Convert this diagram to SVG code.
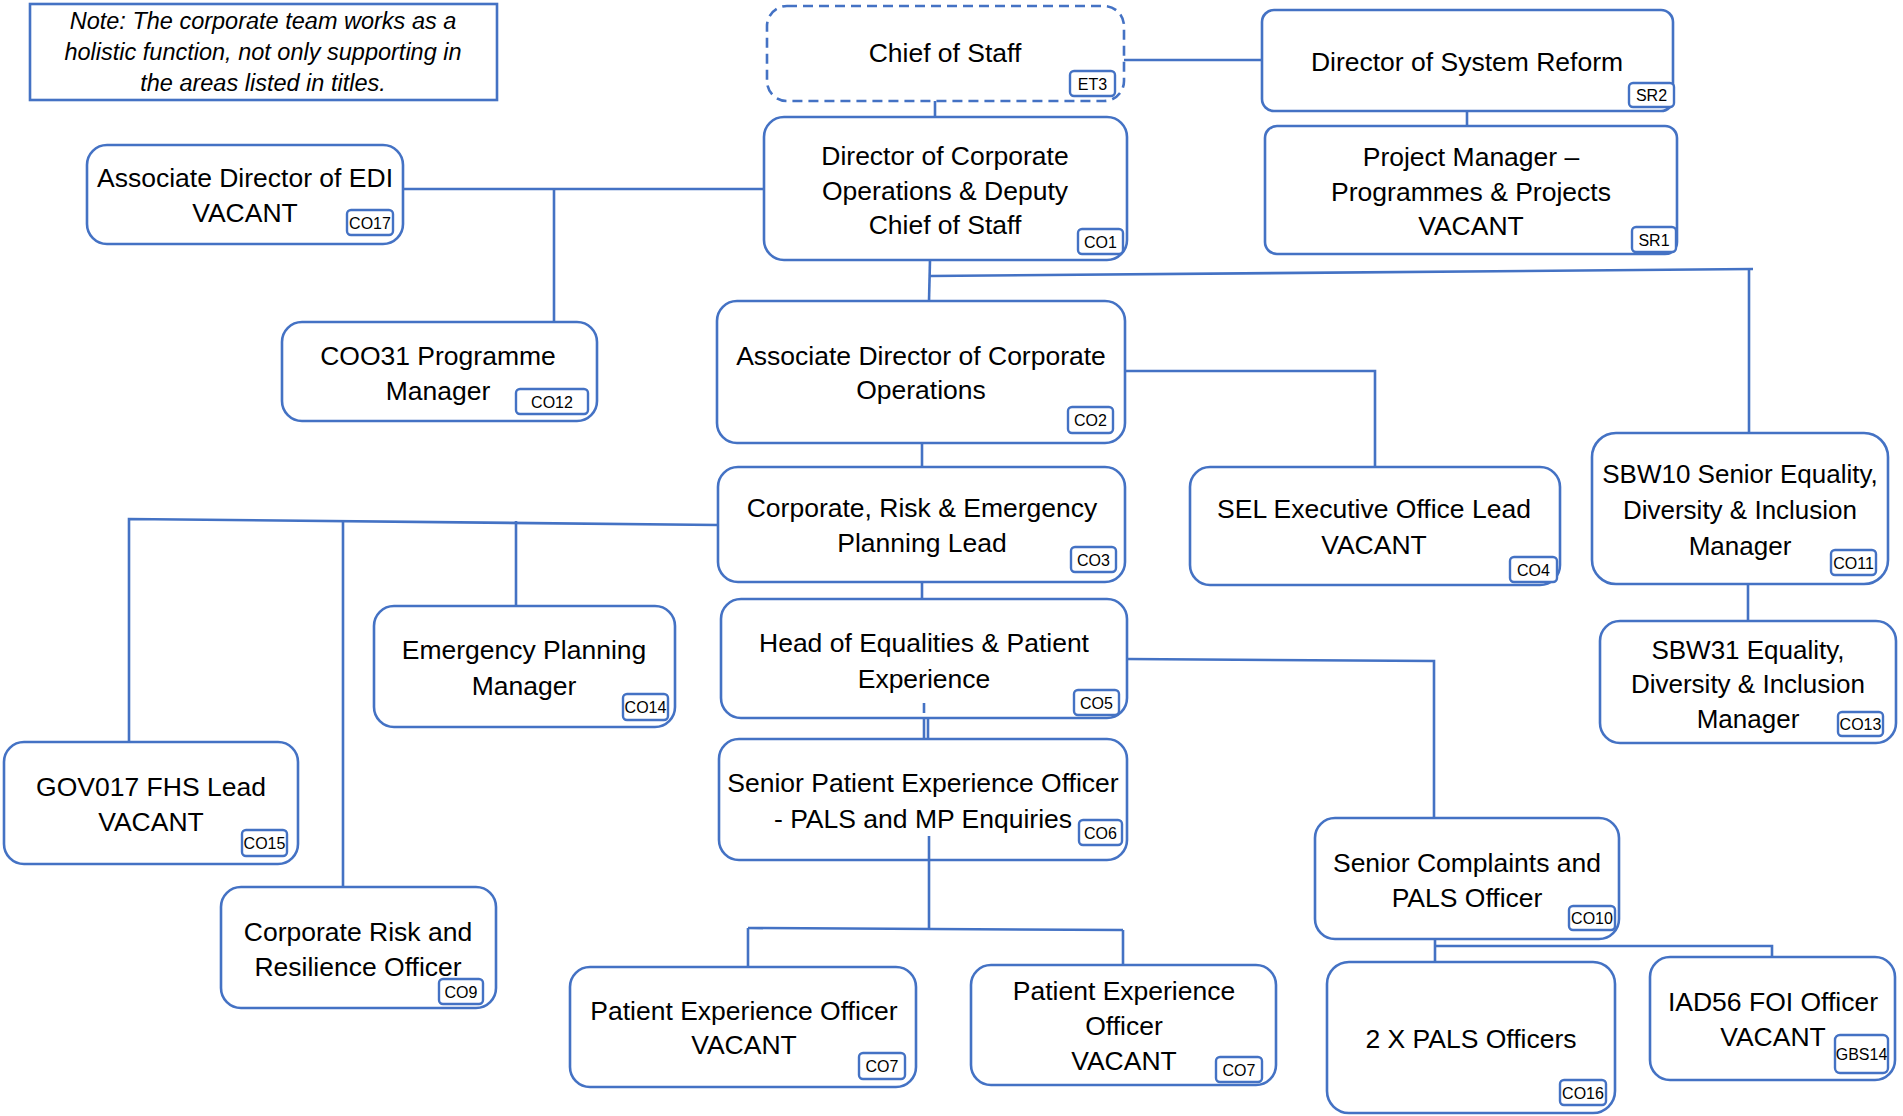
<svg xmlns="http://www.w3.org/2000/svg" width="1903" height="1116" viewBox="0 0 1903 1116">
<style>
.box{fill:#fff;stroke:#4472C4;stroke-width:2.6}
.dash{stroke-dasharray:10 6}
.badge{fill:#fff;stroke:#4472C4;stroke-width:2.4}
.t{font-family:"Liberation Sans",Arial,sans-serif;font-size:26.5px;fill:#000;text-anchor:middle}
.t26{font-size:26px}
.b{font-family:"Liberation Sans",Arial,sans-serif;font-size:16px;fill:#000;text-anchor:middle}
.note{font-family:"Liberation Sans",Arial,sans-serif;font-size:23.5px;font-style:italic;fill:#000;text-anchor:middle}
.c{fill:none;stroke:#4472C4;stroke-width:2.6}
</style>
<rect width="1903" height="1116" fill="#fff"/>

<g id="note">
<rect x="30" y="4" width="467" height="96" fill="#fff" stroke="#4472C4" stroke-width="2.6"/>
<text class="note" x="263" y="29">Note: The corporate team works as a</text>
<text class="note" x="263" y="60">holistic function, not only supporting in</text>
<text class="note" x="263" y="91">the areas listed in titles.</text>
</g>

<g id="ET3">
<rect class="box dash" x="767" y="6" width="357" height="95" rx="20"/>
<text class="t" x="945" y="62">Chief of Staff</text>
<rect class="badge" x="1070" y="71" width="45" height="25" rx="4"/>
<text class="b" x="1092.5" y="89.5">ET3</text>
</g>

<g id="SR2">
<rect class="box" x="1262" y="10" width="411" height="101" rx="12"/>
<text class="t" x="1467" y="71">Director of System Reform</text>
<rect class="badge" x="1629" y="83" width="45" height="24" rx="4"/>
<text class="b" x="1651.5" y="101">SR2</text>
</g>

<g id="SR1">
<rect class="box" x="1265" y="126" width="412" height="128" rx="12"/>
<text class="t" x="1471" y="166">Project Manager –</text>
<text class="t" x="1471" y="201">Programmes &amp; Projects</text>
<text class="t" x="1471" y="235">VACANT</text>
<rect class="badge" x="1632" y="227" width="44" height="25" rx="4"/>
<text class="b" x="1654" y="245.5">SR1</text>
</g>

<g id="CO1">
<rect class="box" x="764" y="117" width="363" height="143" rx="20"/>
<text class="t" x="945" y="165">Director of Corporate</text>
<text class="t" x="945" y="200">Operations &amp; Deputy</text>
<text class="t" x="945" y="234">Chief of Staff</text>
<rect class="badge" x="1078" y="229" width="45" height="25" rx="4"/>
<text class="b" x="1100.5" y="247.5">CO1</text>
</g>

<g id="CO17">
<rect class="box" x="87" y="145" width="316" height="99" rx="20"/>
<text class="t" x="245" y="187">Associate Director of EDI</text>
<text class="t" x="245" y="222">VACANT</text>
<rect class="badge" x="347" y="210" width="46" height="25" rx="4"/>
<text class="b" x="370" y="228.5">CO17</text>
</g>

<g id="CO12">
<rect class="box" x="282" y="322" width="315" height="99" rx="20"/>
<text class="t" x="438" y="365">COO31 Programme</text>
<text class="t" x="438" y="400">Manager</text>
<rect class="badge" x="516" y="389" width="72" height="25" rx="4"/>
<text class="b" x="552" y="407.5">CO12</text>
</g>

<g id="CO2">
<rect class="box" x="717" y="301" width="408" height="142" rx="20"/>
<text class="t" x="921" y="365">Associate Director of Corporate</text>
<text class="t" x="921" y="399">Operations</text>
<rect class="badge" x="1068" y="407" width="45" height="26" rx="4"/>
<text class="b" x="1090.5" y="426">CO2</text>
</g>

<g id="CO3">
<rect class="box" x="718" y="467" width="407" height="115" rx="20"/>
<text class="t" x="922" y="517">Corporate, Risk &amp; Emergency</text>
<text class="t" x="922" y="552">Planning Lead</text>
<rect class="badge" x="1071" y="547" width="45" height="25" rx="4"/>
<text class="b" x="1093.5" y="565.5">CO3</text>
</g>

<g id="CO4">
<rect class="box" x="1190" y="467" width="370" height="118" rx="20"/>
<text class="t" x="1374" y="518">SEL Executive Office Lead</text>
<text class="t" x="1374" y="554">VACANT</text>
<rect class="badge" x="1510" y="557" width="47" height="25" rx="4"/>
<text class="b" x="1533.5" y="575.5">CO4</text>
</g>

<g id="CO11">
<rect class="box" x="1592" y="433" width="296" height="151" rx="24"/>
<text class="t t26" x="1740" y="483">SBW10 Senior Equality,</text>
<text class="t t26" x="1740" y="519">Diversity &amp; Inclusion</text>
<text class="t t26" x="1740" y="555">Manager</text>
<rect class="badge" x="1831" y="550" width="45" height="25" rx="4"/>
<text class="b" x="1853.5" y="568.5">CO11</text>
</g>

<g id="CO13">
<rect class="box" x="1600" y="621" width="296" height="122" rx="20"/>
<text class="t t26" x="1748" y="659">SBW31 Equality,</text>
<text class="t t26" x="1748" y="693">Diversity &amp; Inclusion</text>
<text class="t t26" x="1748" y="728">Manager</text>
<rect class="badge" x="1838" y="712" width="45" height="24" rx="4"/>
<text class="b" x="1860.5" y="730">CO13</text>
</g>

<g id="CO14">
<rect class="box" x="374" y="606" width="301" height="121" rx="20"/>
<text class="t" x="524" y="659">Emergency Planning</text>
<text class="t" x="524" y="695">Manager</text>
<rect class="badge" x="623" y="694" width="45" height="26" rx="4"/>
<text class="b" x="645.5" y="713">CO14</text>
</g>

<g id="CO5">
<rect class="box" x="721" y="599" width="406" height="119" rx="20"/>
<text class="t" x="924" y="652">Head of Equalities &amp; Patient</text>
<text class="t" x="924" y="688">Experience</text>
<rect class="badge" x="1074" y="690" width="45" height="25" rx="4"/>
<text class="b" x="1096.5" y="708.5">CO5</text>
</g>

<g id="CO6">
<rect class="box" x="719" y="739" width="408" height="121" rx="20"/>
<text class="t" x="923" y="792">Senior Patient Experience Officer</text>
<text class="t" x="923" y="828">- PALS and MP Enquiries</text>
<rect class="badge" x="1079" y="820" width="43" height="25" rx="4"/>
<text class="b" x="1100.5" y="838.5">CO6</text>
</g>

<g id="CO15">
<rect class="box" x="4" y="742" width="294" height="122" rx="20"/>
<text class="t" x="151" y="796">GOV017 FHS Lead</text>
<text class="t" x="151" y="831">VACANT</text>
<rect class="badge" x="242" y="830" width="45" height="26" rx="4"/>
<text class="b" x="264.5" y="849">CO15</text>
</g>

<g id="CO9">
<rect class="box" x="221" y="887" width="275" height="121" rx="20"/>
<text class="t" x="358" y="941">Corporate Risk and</text>
<text class="t" x="358" y="976">Resilience Officer</text>
<rect class="badge" x="439" y="979" width="44" height="25" rx="4"/>
<text class="b" x="461" y="997.5">CO9</text>
</g>

<g id="CO7a">
<rect class="box" x="570" y="967" width="346" height="120" rx="20"/>
<text class="t" x="744" y="1020">Patient Experience Officer</text>
<text class="t" x="744" y="1054">VACANT</text>
<rect class="badge" x="859" y="1053" width="46" height="26" rx="4"/>
<text class="b" x="882" y="1072">CO7</text>
</g>

<g id="CO7b">
<rect class="box" x="971" y="965" width="305" height="120" rx="20"/>
<text class="t" x="1124" y="1000">Patient Experience</text>
<text class="t" x="1124" y="1035">Officer</text>
<text class="t" x="1124" y="1070">VACANT</text>
<rect class="badge" x="1216" y="1057" width="46" height="25" rx="4"/>
<text class="b" x="1239" y="1075.5">CO7</text>
</g>

<g id="CO10">
<rect class="box" x="1315" y="818" width="304" height="121" rx="20"/>
<text class="t" x="1467" y="872">Senior Complaints and</text>
<text class="t" x="1467" y="907">PALS Officer</text>
<rect class="badge" x="1569" y="906" width="46" height="24" rx="4"/>
<text class="b" x="1592" y="924">CO10</text>
</g>

<g id="CO16">
<rect class="box" x="1327" y="962" width="288" height="151" rx="22"/>
<text class="t" x="1471" y="1048">2 X PALS Officers</text>
<rect class="badge" x="1560" y="1080" width="46" height="25" rx="4"/>
<text class="b" x="1583" y="1098.5">CO16</text>
</g>

<g id="GBS14">
<rect class="box" x="1650" y="957" width="245" height="123" rx="20"/>
<text class="t" x="1773" y="1011">IAD56 FOI Officer</text>
<text class="t" x="1773" y="1046">VACANT</text>
<rect class="badge" x="1835" y="1035" width="53" height="38" rx="5"/>
<text class="b" x="1861.5" y="1060">GBS14</text>
</g>

<g id="connectors">
<path class="c" d="M1124,60 L1262,60"/>
<path class="c" d="M935,101 L935,117"/>
<path class="c" d="M1467,111 L1467,126"/>
<path class="c" d="M403,189 L764,189"/>
<path class="c" d="M554,189 L554,322"/>
<path class="c" d="M930,260 L929,301"/>
<path class="c" d="M930,276 L1753,269"/>
<path class="c" d="M1749,269 L1749,433"/>
<path class="c" d="M1125,371 L1375,371 L1375,467"/>
<path class="c" d="M922,443 L922,467"/>
<path class="c" d="M718,525 L129,519 L129,742"/>
<path class="c" d="M343,520 L343,887"/>
<path class="c" d="M516,521 L516,606"/>
<path class="c" d="M922,582 L922,599"/>
<path class="c" d="M1127,659 L1434,661 L1434,818"/>
<path class="c" d="M924,703 L924,713"/>
<path class="c" d="M924,718 L924,739"/>
<path class="c" d="M928,718 L928,739"/>
<path class="c" d="M1748,584 L1748,621"/>
<path class="c" d="M929,836 L929,930"/>
<path class="c" d="M748,928 L1123,930"/>
<path class="c" d="M748,928 L748,967"/>
<path class="c" d="M1123,930 L1123,965"/>
<path class="c" d="M1435,939 L1435,962"/>
<path class="c" d="M1435,946 L1772,946 L1772,957"/>
</g>
</svg>
